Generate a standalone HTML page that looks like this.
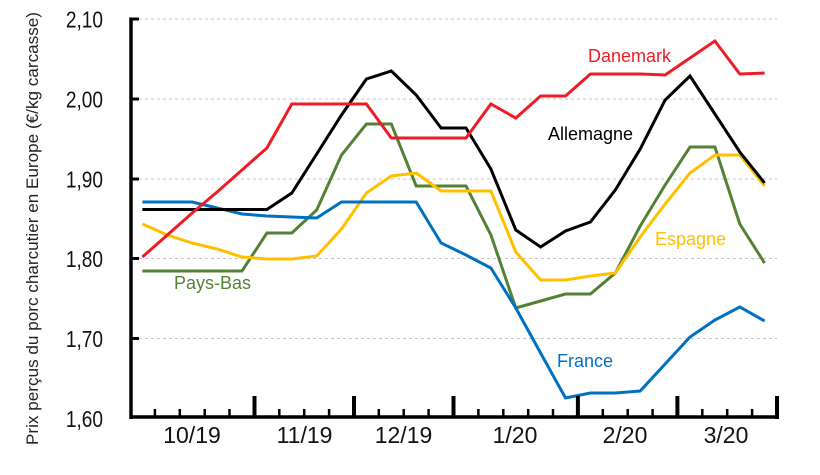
<!DOCTYPE html>
<html><head><meta charset="utf-8"><style>
html,body{margin:0;padding:0;background:#fff;}
svg{display:block;}
text{font-family:"Liberation Sans",Arial,sans-serif;}
</style></head><body>
<svg width="820" height="475" viewBox="0 0 820 475" xmlns="http://www.w3.org/2000/svg">
<rect width="820" height="475" fill="#fff"/>
<!-- gridlines -->
<g stroke="#c4c4c4" stroke-width="1" stroke-dasharray="3,3">
<line x1="139" y1="19" x2="777" y2="19"/>
<line x1="139" y1="99" x2="777" y2="99"/>
<line x1="139" y1="179" x2="777" y2="179"/>
<line x1="139" y1="258.5" x2="777" y2="258.5"/>
<line x1="139" y1="338.5" x2="777" y2="338.5"/>
</g>
<!-- y title -->
<text transform="translate(38,228.5) rotate(-90)" text-anchor="middle" font-size="17" fill="#222" textLength="433" lengthAdjust="spacingAndGlyphs">Prix perçus du porc charcutier en Europe (€/kg carcasse)</text>
<!-- y labels -->
<g font-size="23" fill="#111" text-anchor="end">
<text transform="translate(103,27.5) scale(0.83,1)">2,10</text>
<text transform="translate(103,107.5) scale(0.83,1)">2,00</text>
<text transform="translate(103,187.5) scale(0.83,1)">1,90</text>
<text transform="translate(103,267) scale(0.83,1)">1,80</text>
<text transform="translate(103,347) scale(0.83,1)">1,70</text>
<text transform="translate(103,427) scale(0.83,1)">1,60</text>
</g>
<!-- series -->
<g fill="none" stroke-width="3" stroke-linejoin="miter">
<polyline stroke="#548235" points="142.4,271 167.3,271 192.2,271 217.1,271 242,271 266.9,233 291.8,233 316.7,210 341.5,155 366.4,124 391.3,124 416.2,186 441.1,186 466,186 490.9,235 515.8,308 540.6,301 565.5,294 590.4,294 615.3,273 640.2,226 665.1,185 690,147 714.9,147 739.8,224 764.6,263"/>
<polyline stroke="#ffc000" points="142.4,224 167.3,235 192.2,243 217.1,249 242,257 266.9,259 291.8,259 316.7,256 341.5,229 366.4,193 391.3,176 416.2,173 441.1,191 466,191 490.9,191 515.8,252 540.6,280 565.5,280 590.4,276 615.3,273 640.2,237 665.1,204 690,173 714.9,155 739.8,155 764.6,186"/>
<polyline stroke="#0070c0" points="142.4,202 167.3,202 192.2,202 217.1,208 242,214 266.9,216 291.8,217 316.7,218 341.5,202 366.4,202 391.3,202 416.2,202 441.1,243 466,255 490.9,268 515.8,308 540.6,353 565.5,398 590.4,393 615.3,393 640.2,391 665.1,364 690,337 714.9,320 739.8,307 764.6,321"/>
<polyline stroke="#000000" points="142.4,209.5 167.3,209.5 192.2,209.5 217.1,209.5 242,209.5 266.9,209.5 291.8,193 316.7,154 341.5,115 366.4,79 391.3,71 416.2,95 441.1,128 466,128 490.9,169 515.8,230 540.6,247 565.5,231 590.4,222 615.3,190 640.2,149 665.1,100 690,76 714.9,114 739.8,152 764.6,183"/>
<polyline stroke="#ee1c25" points="142.4,257 167.3,235 192.2,213 217.1,192 242,170 266.9,148 291.8,104 316.7,104 341.5,104 366.4,104 391.3,138 416.2,138 441.1,138 466,138 490.9,104 515.8,118 540.6,96 565.5,96 590.4,74 615.3,74 640.2,74 665.1,75 690,58 714.9,41 739.8,74 764.6,73"/>
</g>
<!-- series labels -->
<g font-size="18">
<text x="588" y="62" fill="#ee1c25">Danemark</text>
<text x="548" y="140" fill="#000">Allemagne</text>
<text x="655" y="245" fill="#ffc000">Espagne</text>
<text x="174" y="289" fill="#548235">Pays-Bas</text>
<text x="557" y="367" fill="#0070c0">France</text>
</g>
<!-- axes -->
<g stroke="#000">
<line x1="131" y1="17.5" x2="131" y2="419" stroke-width="3.5"/>
<line x1="129.5" y1="417" x2="779" y2="417" stroke-width="3.5"/>
<g stroke-width="3">
<line x1="131" y1="19" x2="139" y2="19"/>
<line x1="131" y1="99" x2="139" y2="99"/>
<line x1="131" y1="179" x2="139" y2="179"/>
<line x1="131" y1="258.5" x2="139" y2="258.5"/>
<line x1="131" y1="338.5" x2="139" y2="338.5"/>
</g>
<g stroke-width="2.5">
<line x1="154.9" y1="409" x2="154.9" y2="417"/>
<line x1="179.8" y1="409" x2="179.8" y2="417"/>
<line x1="204.7" y1="409" x2="204.7" y2="417"/>
<line x1="229.5" y1="409" x2="229.5" y2="417"/>
<line x1="279.3" y1="409" x2="279.3" y2="417"/>
<line x1="304.2" y1="409" x2="304.2" y2="417"/>
<line x1="329.1" y1="409" x2="329.1" y2="417"/>
<line x1="378.8" y1="409" x2="378.8" y2="417"/>
<line x1="403.7" y1="409" x2="403.7" y2="417"/>
<line x1="428.6" y1="409" x2="428.6" y2="417"/>
<line x1="478.4" y1="409" x2="478.4" y2="417"/>
<line x1="503.3" y1="409" x2="503.3" y2="417"/>
<line x1="528.2" y1="409" x2="528.2" y2="417"/>
<line x1="553" y1="409" x2="553" y2="417"/>
<line x1="602.8" y1="409" x2="602.8" y2="417"/>
<line x1="627.7" y1="409" x2="627.7" y2="417"/>
<line x1="652.6" y1="409" x2="652.6" y2="417"/>
<line x1="702.3" y1="409" x2="702.3" y2="417"/>
<line x1="727.2" y1="409" x2="727.2" y2="417"/>
<line x1="752.1" y1="409" x2="752.1" y2="417"/>
</g>
<g stroke-width="4">
<line x1="254.5" y1="396" x2="254.5" y2="417"/>
<line x1="354" y1="396" x2="354" y2="417"/>
<line x1="453.5" y1="396" x2="453.5" y2="417"/>
<line x1="577.9" y1="396" x2="577.9" y2="417"/>
<line x1="677.4" y1="396" x2="677.4" y2="417"/>
<line x1="777" y1="396" x2="777" y2="419"/>
</g>
</g>
<!-- x labels -->
<g font-size="23" fill="#111" text-anchor="middle">
<text x="192" y="443">10/19</text>
<text x="304.5" y="443">11/19</text>
<text x="403.5" y="443">12/19</text>
<text x="515" y="443">1/20</text>
<text x="625" y="443">2/20</text>
<text x="726" y="443">3/20</text>
</g>
</svg>
</body></html>
